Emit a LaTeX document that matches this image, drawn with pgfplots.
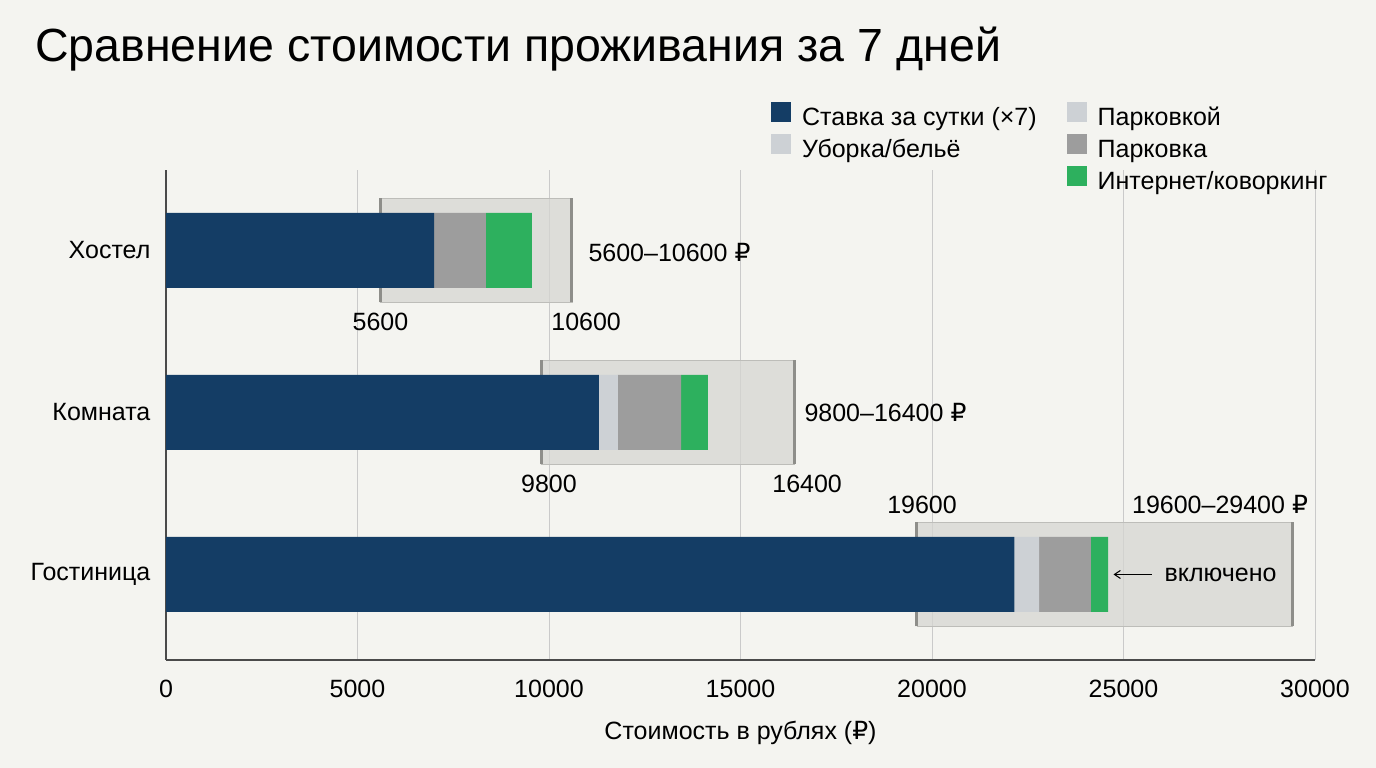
\documentclass[border=0pt]{standalone}
\usepackage{fontspec}
\setmainfont{Liberation Sans}
\newfontfamily\dejavu{DejaVu Sans}
\usepackage{pgfplots}
\pgfplotsset{compat=1.18}
\usetikzlibrary{arrows.meta}

\definecolor{bg}{HTML}{F4F4F0}
\definecolor{stay}{HTML}{143D65}
\definecolor{clean}{HTML}{CDD1D5}
\definecolor{park}{HTML}{9D9D9D}
\definecolor{net}{HTML}{2DB05E}
\definecolor{boxfill}{HTML}{D6D6D2}
\definecolor{boxedge}{HTML}{BDBDB9}
\definecolor{boxcap}{HTML}{8E8E8A}
\definecolor{gridc}{HTML}{CACACA}
\definecolor{axisc}{HTML}{4A4A4A}

\newcommand{\fs}{\fontsize{25pt}{30pt}\selectfont}
\newcommand{\rub}{{\dejavu ₽}}

\pgfplotsset{
  base/.style={
    at={(166pt,108pt)}, anchor=south west,
    scale only axis, width=1149pt, height=490pt,
    xmin=0, xmax=30000, ymin=-0.528, ymax=2.497,
    xtick={0,5000,...,30000}, ytick={0,1,2},
    scaled x ticks=false,
  },
}

\begin{document}
\begin{tikzpicture}
  \fill[bg] (0,0) rectangle (1376pt,768pt);
  \useasboundingbox (0,0) rectangle (1376pt,768pt);

  \node[anchor=base west, inner sep=0pt, font=\fontsize{46.5pt}{54pt}\selectfont]
    at (35pt,706pt) {Сравнение стоимости проживания за 7 дней};

  % grid and range boxes
  \begin{axis}[base,
    axis line style={draw=none},
    tick style={draw=none},
    xticklabels={}, yticklabels={},
    xmajorgrids,
    grid style={gridc, line width=1pt},
  ]
    % Хостел 5600-10600
    \addplot[fill=boxfill, fill opacity=0.75, draw=boxedge, line width=1.5pt]
      coordinates {(5600,1.679) (10600,1.679) (10600,2.321) (5600,2.321) (5600,1.679)};
    \addplot[draw=boxcap, line width=3pt] coordinates {(5600,1.679) (5600,2.321)};
    \addplot[draw=boxcap, line width=3pt] coordinates {(10600,1.679) (10600,2.321)};
    % Комната 9800-16400
    \addplot[fill=boxfill, fill opacity=0.75, draw=boxedge, line width=1.5pt]
      coordinates {(9800,0.679) (16400,0.679) (16400,1.321) (9800,1.321) (9800,0.679)};
    \addplot[draw=boxcap, line width=3pt] coordinates {(9800,0.679) (9800,1.321)};
    \addplot[draw=boxcap, line width=3pt] coordinates {(16400,0.679) (16400,1.321)};
    % Гостиница 19600-29400
    \addplot[fill=boxfill, fill opacity=0.75, draw=boxedge, line width=1.5pt]
      coordinates {(19600,-0.321) (29400,-0.321) (29400,0.321) (19600,0.321) (19600,-0.321)};
    \addplot[draw=boxcap, line width=3pt] coordinates {(19600,-0.321) (19600,0.321)};
    \addplot[draw=boxcap, line width=3pt] coordinates {(29400,-0.321) (29400,0.321)};
  \end{axis}

  % stacked bars, axis lines, labels
  \begin{axis}[base,
    clip=false,
    axis x line=bottom, axis y line=left,
    axis line style={draw=axisc, line width=1.5pt, -},
    tick style={draw=none},
    xbar stacked, bar width=75pt,
    yticklabels={Гостиница,Комната,Хостел},
    ticklabel style={font=\fs},
    xticklabel style={yshift=-14pt},
    yticklabel style={xshift=-10pt},
    /pgf/number format/1000 sep={},
    /pgf/number format/assume math mode=true,
    xlabel={Стоимость в рублях (\rub)},
    xlabel style={font=\fs, at={(axis description cs:0.5,0)}, anchor=center, yshift=-73pt},
    legend style={at={(0.5265,1.14)}, anchor=north west, draw=none, fill=none,
      font=\fs, legend columns=2, inner sep=0pt, row sep=1.5pt,
      /tikz/column 2/.style={column sep=28pt},
      nodes={inner sep=2pt, text height=18pt, text depth=5pt}},
    legend cell align=left,
    legend image code/.code={\fill[#1, draw=none] (0pt,-3pt) rectangle (20pt,17pt);
      \path[draw=none, fill=none] (20pt,0pt) -- (29pt,0pt);},
  ]
    \addplot[fill=stay, draw=none, forget plot] coordinates {(22150,0) (11300,1) (7000,2)};
    \addplot[fill=clean, draw=none, forget plot] coordinates {(650,0) (500,1) (0,2)};
    \addplot[fill=park, draw=none, forget plot] coordinates {(1350,0) (1650,1) (1350,2)};
    \addplot[fill=net, draw=none, forget plot] coordinates {(450,0) (700,1) (1200,2)};

    \addlegendimage{fill=stay}
    \addlegendentry{Ставка за сутки (×7)}
    \addlegendimage{fill=clean}
    \addlegendentry{Парковкой}
    \addlegendimage{fill=clean}
    \addlegendentry{Уборка/бельё}
    \addlegendimage{fill=park}
    \addlegendentry{Парковка}
    \addlegendimage{empty legend}
    \addlegendentry{}
    \addlegendimage{fill=net}
    \addlegendentry{Интернет/коворкинг}

    % range annotations
    \node[font=\fs, anchor=west] at (axis cs:10940,1.99) {5600–10600 \rub};
    \node[font=\fs] at (axis cs:5600,1.559) {5600};
    \node[font=\fs] at (axis cs:10970,1.559) {10600};
    \node[font=\fs, anchor=west] at (axis cs:16580,1.0) {9800–16400 \rub};
    \node[font=\fs] at (axis cs:10000,0.559) {9800};
    \node[font=\fs] at (axis cs:16740,0.559) {16400};
    \node[font=\fs] at (axis cs:19740,0.429) {19600};
    \node[font=\fs] at (axis cs:27520,0.429) {19600–29400 \rub};
    \draw[-{Straight Barb[length=6pt,width=8pt]}, line width=1pt]
      (axis cs:25740,0) -- (axis cs:24740,0);
    \node[font=\fs, anchor=west] at (axis cs:25980,0) {включено};
  \end{axis}
\end{tikzpicture}
\end{document}
